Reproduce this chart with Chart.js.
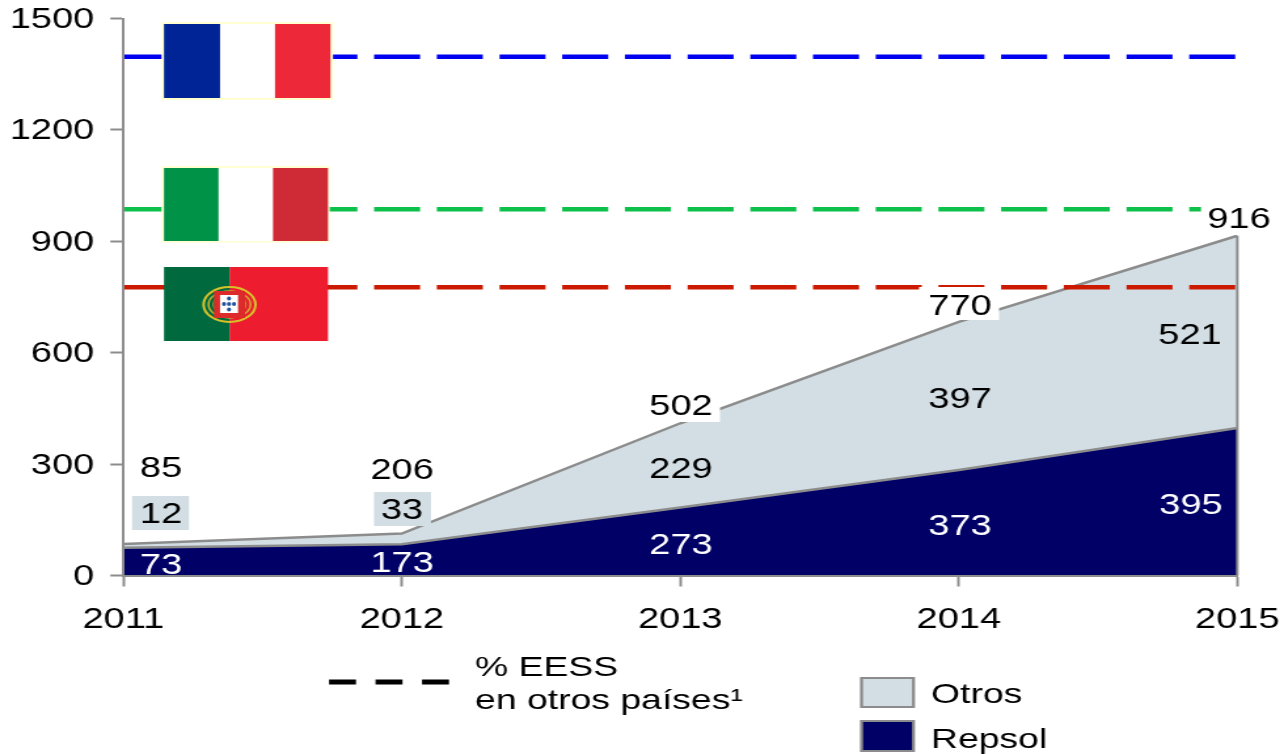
<!DOCTYPE html>
<html>
<head>
<meta charset="utf-8">
<script src="https://cdn.jsdelivr.net/npm/chart.js@4"></script>
<style>
html,body{margin:0;padding:0;background:#fff;overflow:hidden;width:1284px;height:754px}
#wrap{position:absolute;left:0;top:0;width:980px;height:754px;transform:scaleX(1.310204);transform-origin:0 0}
</style>
</head>
<body>
<div id="wrap"><canvas id="c" width="980" height="754"></canvas></div>
<script>
// ---- data ----
const years = ['2011','2012','2013','2014','2015'];
const yTicks = [0,300,600,900,1200,1500];
// area heights as actually drawn in the reference
const repsolDrawn = [75,84,183,284,397];
const otrosDrawn  = [10,29,227,399,518];
// printed labels
const repsolLabels = ['73','173','273','373','395'];
const otrosLabels  = ['12','33','229','397','521'];
const totalLabels  = ['85','206','502','770','916'];
// reference lines
const franceLevel   = [1397,1397,1397,1397,1397];
const italyLevel    = [986,986,986,986,986];
const portugalLevel = [776,776,776,776,776];

const S = 1284/980, X = v => v/S;
const FAMILY = '"Liberation Sans", Arial, sans-serif';
const FSIZE = 29;
const FONT = FSIZE+'px '+FAMILY;
const GRAY = '#8c8c8c', ICE = '#d2dee4', NAVY = '#000066';

// label placement in page pixels, per year index
const repsolPos = [[161,564],[402,562],[681,544],[960,525],[1191,504]];
const otrosPos  = [[161,513],[402,509],[681,468],[960,398],[1190,334]];
const totalPos  = [[161,467],[402,469],[681,405],[960,305],[1239,218]];
const otrosBoxes = [[132,496,57,34],[374,492,57,34]];
const totalBoxes = [null,null,[640,388,80,34],[919,287,80,33],[1201,200,76,35]];

function rect(ctx,x0,y0,x1,y1,col){ctx.fillStyle=col;ctx.fillRect(X(x0),y0,X(x1-x0),y1-y0);}
function text(ctx,s,x,y,col,align){ctx.fillStyle=col;ctx.textAlign=align||'center';ctx.textBaseline='middle';ctx.fillText(s,X(x),y+1.5);}

function tricolor(ctx,o,inner,stops,cols){
  rect(ctx,o[0],o[1],o[2],o[3],'#ffffd2');
  rect(ctx,inner[0],inner[1],inner[2],inner[3],'#fff');
  rect(ctx,inner[0],inner[1],stops[0],inner[3],cols[0]);
  rect(ctx,stops[1],inner[1],inner[2],inner[3],cols[1]);
}
function ring(ctx,cx,cy,rx,ry,col,w){
  ctx.beginPath();ctx.ellipse(cx,cy,X(rx),ry,0,0,Math.PI*2);ctx.strokeStyle=col;ctx.lineWidth=w;ctx.stroke();
}
function portugal(ctx){
  rect(ctx,164,267,229.5,341,'#006a3e');
  rect(ctx,229.5,267,328,341,'#ed1c2e');
  const cx=X(229.5),cy=304.5;
  ring(ctx,cx,cy,26,17.5,'#d8c22a',2);
  ring(ctx,cx,cy,21,13.5,'#c9b030',1.5);
  ring(ctx,cx,cy,16.5,10.5,'#a8a030',1);
  rect(ctx,214,291,245,318,'#dd2a2a');
  rect(ctx,220,295,238,313,'#fff');
  ctx.fillStyle='#1f4f9c';
  [[229,298.5],[224,304],[229,304],[234,304],[229,309.5]].forEach(p=>{
    ctx.beginPath();ctx.ellipse(X(p[0]),p[1],X(2),1.9,0,0,Math.PI*2);ctx.fill();
  });
}

const overlay = {
  id:'overlay',
  afterDatasetsDraw(chart){
    const ctx=chart.ctx, xs=chart.scales.x, ys=chart.scales.y;
    ctx.save();
    // right edge of the stacked area
    const last=years.length-1;
    ctx.strokeStyle=GRAY;ctx.lineWidth=2;
    ctx.beginPath();
    ctx.moveTo(xs.getPixelForValue(last),ys.getPixelForValue(repsolDrawn[last]+otrosDrawn[last]));
    ctx.lineTo(xs.getPixelForValue(last),ys.getPixelForValue(0));
    ctx.stroke();
    // flags
    tricolor(ctx,[161.5,22,333,100],[164,24,330.5,98],[220,275],['#002395','#ed2939']);
    tricolor(ctx,[161.5,166,329.7,242.5],[164,168,328,241],[218.5,273],['#009246','#ce2b37']);
    portugal(ctx);
    // value labels
    ctx.font=FONT;
    otrosBoxes.forEach(b=>rect(ctx,b[0],b[1],b[0]+b[2],b[1]+b[3],ICE));
    totalBoxes.forEach(b=>{if(b)rect(ctx,b[0],b[1],b[0]+b[2],b[1]+b[3],'#fff');});
    years.forEach((_,i)=>{
      text(ctx,repsolLabels[i],repsolPos[i][0],repsolPos[i][1],'#fff');
      text(ctx,otrosLabels[i],otrosPos[i][0],otrosPos[i][1],'#000');
      text(ctx,totalLabels[i],totalPos[i][0],totalPos[i][1],'#000');
    });
    // legend
    ctx.strokeStyle='#000';ctx.lineWidth=5;ctx.setLineDash([X(27),X(19.5)]);
    ctx.beginPath();ctx.moveTo(X(329),682);ctx.lineTo(X(449),682);ctx.stroke();
    ctx.setLineDash([]);
    ctx.font='28.5px '+FAMILY;
    text(ctx,'% EESS',475,667,'#000','left');
    text(ctx,'en otros países¹',475,700,'#000','left');
    rect(ctx,860,677,915,708,GRAY);rect(ctx,863,679,912,706,ICE);
    rect(ctx,860,720,915,752,GRAY);rect(ctx,863,722,912,750,NAVY);
    text(ctx,'Otros',931,694,'#000','left');
    text(ctx,'Repsol',931,739,'#000','left');
    ctx.restore();
  }
};

const refLine = (label,data,color) => ({
  label,data,type:'line',stack:label,borderColor:color,borderWidth:4.5,
  borderDash:[X(46),X(16.7)],borderCapStyle:'butt',fill:false,pointRadius:0,order:0
});

new Chart(document.getElementById('c'),{
  type:'line',
  data:{labels:years,datasets:[
    {label:'Repsol',data:repsolDrawn,stack:'area',borderColor:GRAY,borderWidth:2.5,backgroundColor:NAVY,fill:'origin',pointRadius:0,tension:0,order:1},
    {label:'Otros',data:otrosDrawn,stack:'area',borderColor:GRAY,borderWidth:2.5,backgroundColor:ICE,fill:'-1',pointRadius:0,tension:0,order:2},
    refLine('Francia',franceLevel,'#0000f0'),
    refLine('Italia',italyLevel,'#0cc04a'),
    refLine('Portugal',portugalLevel,'#cc1a00')
  ]},
  options:{
    responsive:false,animation:false,devicePixelRatio:1,
    layout:{padding:{top:18.5,right:X(1284-1237.3),bottom:0,left:0}},
    plugins:{legend:{display:false},tooltip:{enabled:false}},
    scales:{
      x:{
        type:'category',offset:false,
        grid:{display:true,drawOnChartArea:false,drawTicks:true,tickLength:11,tickColor:GRAY,tickWidth:2,z:1},
        border:{display:true,color:GRAY,width:2,z:1},
        ticks:{color:'#000',font:{family:FAMILY,size:FSIZE},padding:16,maxRotation:0,autoSkip:false},
        afterFit(s){s.height=754-575.5;s.paddingLeft=0;s.paddingRight=0;}
      },
      y:{
        stacked:true,min:0,max:1500,
        afterBuildTicks(s){s.ticks=yTicks.map(v=>({value:v}));},
        grid:{display:true,drawOnChartArea:false,drawTicks:true,tickLength:X(13),tickColor:GRAY,tickWidth:2,z:1},
        border:{display:true,color:GRAY,width:2,z:1},
        ticks:{color:'#000',font:{family:FAMILY,size:FSIZE},padding:X(16),callback:v=>String(v)},
        afterFit(s){
          s.width=X(123.3);s.paddingTop=0;s.paddingBottom=0;
          if(!s._nudged){
            const orig=s._computeLabelItems;
            s._computeLabelItems=function(a){
              const items=orig.call(this,a);
              items.forEach(it=>{it.options.translation=[it.options.translation[0],it.options.translation[1]+1.5];});
              return items;
            };
            s._nudged=true;
          }
        }
      }
    }
  },
  plugins:[overlay]
});
</script>
</body>
</html>
